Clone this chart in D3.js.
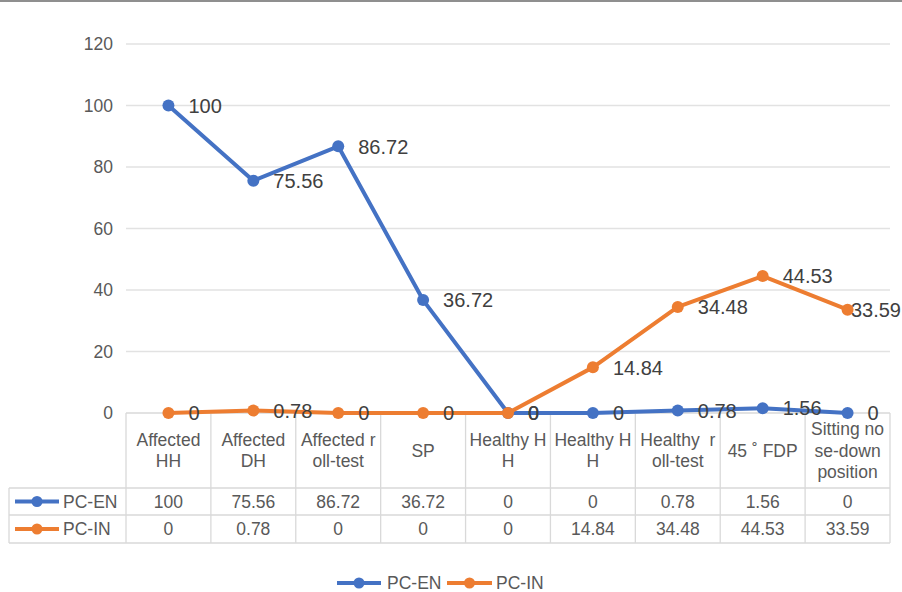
<!DOCTYPE html>
<html>
<head>
<meta charset="utf-8">
<script src="https://cdn.jsdelivr.net/npm/d3@7/dist/d3.min.js"></script>
<style>
  html, body { margin: 0; padding: 0; background: #fff; }
  svg { display: block; font-family: "Liberation Sans", Arial, Helvetica, sans-serif; }
</style>
</head>
<body>
<svg id="chart" width="902" height="592"></svg>
<script>
const categories = [
  ["Affected", "HH"],
  ["Affected", "DH"],
  ["Affected r", "oll-test"],
  ["SP"],
  ["Healthy H", "H"],
  ["Healthy H", "H"],
  ["Healthy  r", "oll-test"],
  ["45 ˚ FDP"],
  ["Sitting no", "se-down", "position"]
];
const seriesNames = ["PC-EN", "PC-IN"];
const pcEN = [100, 75.56, 86.72, 36.72, 0, 0, 0.78, 1.56, 0];
const pcIN = [0, 0.78, 0, 0, 0, 14.84, 34.48, 44.53, 33.59];
const tableEN = ["100", "75.56", "86.72", "36.72", "0", "0", "0.78", "1.56", "0"];
const tableIN = ["0", "0.78", "0", "0", "0", "14.84", "34.48", "44.53", "33.59"];
const yTicks = [0, 20, 40, 60, 80, 100, 120];
const colors = ["#4472C4", "#ED7D31"];

const W = 902;
const svg = d3.select("#chart");
const plotLeft = 126, plotRight = 890, plotTop = 44, zeroY = 413;
const fs = 17.5;

// top border
svg.append("rect").attr("x", 0).attr("y", 0).attr("width", W).attr("height", 2).attr("fill", "#8f8f8f");

const x = d3.scaleBand().domain(d3.range(categories.length)).range([plotLeft, plotRight]);
const y = d3.scaleLinear().domain([0, 120]).range([zeroY, plotTop]);

// gridlines
svg.append("g").selectAll("line").data(yTicks.filter(t => t > 0)).join("line")
  .attr("x1", plotLeft).attr("x2", plotRight)
  .attr("y1", d => y(d)).attr("y2", d => y(d))
  .attr("stroke", "#e2e2e2").attr("stroke-width", 1.5);

// y axis labels
const yAxis = d3.axisLeft(y).tickValues(yTicks).tickSize(0).tickPadding(13);
const ya = svg.append("g").attr("transform", `translate(${plotLeft},0)`).call(yAxis);
ya.select(".domain").remove();
ya.selectAll("text").attr("font-size", fs).attr("fill", "#595959")
  .attr("font-family", "Liberation Sans, Arial, sans-serif");

// table
const rowTop = 488, row1 = 515, rowBot = 543, tableLeft = 9;
const tg = svg.append("g").attr("stroke", "#d9d9d9").attr("stroke-width", 1.3);
x.domain().forEach(i => {
  tg.append("line").attr("x1", x(i)).attr("x2", x(i)).attr("y1", zeroY).attr("y2", rowBot);
});
tg.append("line").attr("x1", plotRight).attr("x2", plotRight).attr("y1", zeroY).attr("y2", rowBot);
tg.append("line").attr("x1", tableLeft).attr("x2", tableLeft).attr("y1", rowTop).attr("y2", rowBot);
[rowTop, row1, rowBot].forEach(yy => {
  tg.append("line").attr("x1", tableLeft).attr("x2", plotRight).attr("y1", yy).attr("y2", yy);
});
tg.append("line").attr("x1", plotLeft).attr("x2", plotRight).attr("y1", zeroY).attr("y2", zeroY);

// category labels
const cg = svg.append("g").attr("font-size", fs).attr("fill", "#595959").attr("text-anchor", "middle");
categories.forEach((lines, i) => {
  const cx = x(i) + x.bandwidth() / 2;
  const midY = (zeroY + rowTop) / 2;
  const lh = 21.5;
  const startY = midY - (lines.length - 1) * lh / 2;
  lines.forEach((ln, j) => {
    cg.append("text").attr("x", cx).attr("y", startY + j * lh).attr("dy", "0.35em")
      .style("white-space", "pre").text(ln);
  });
});

// table values + table legend keys
[tableEN, tableIN].forEach((vals, r) => {
  const cy = r === 0 ? (rowTop + row1) / 2 : (row1 + rowBot) / 2;
  vals.forEach((v, i) => {
    cg.append("text").attr("x", x(i) + x.bandwidth() / 2).attr("y", cy).attr("dy", "0.35em").text(v);
  });
  const lg = svg.append("g");
  lg.append("line").attr("x1", 15).attr("x2", 59).attr("y1", cy).attr("y2", cy)
    .attr("stroke", colors[r]).attr("stroke-width", 4);
  lg.append("circle").attr("cx", 37).attr("cy", cy).attr("r", 5.5).attr("fill", colors[r]);
  lg.append("text").attr("x", 63).attr("y", cy).attr("dy", "0.35em").attr("font-size", fs)
    .attr("fill", "#595959").text(seriesNames[r]);
});

// series lines
const line = d3.line().x((d, i) => x(i) + x.bandwidth() / 2).y(d => y(d));
const allSeries = [pcEN, pcIN];
allSeries.forEach((s, k) => {
  const g = svg.append("g");
  g.append("path").datum(s).attr("d", line).attr("fill", "none")
    .attr("stroke", colors[k]).attr("stroke-width", 4).attr("stroke-linejoin", "round");
  g.selectAll("circle").data(s).join("circle")
    .attr("cx", (d, i) => x(i) + x.bandwidth() / 2).attr("cy", d => y(d)).attr("r", 6)
    .attr("fill", colors[k]);
});

// data labels (right of point, pulled in if they would overflow the picture)
allSeries.forEach((s, k) => {
  svg.append("g").selectAll("text").data(s).join("text")
    .attr("x", (d, i) => x(i) + x.bandwidth() / 2 + 20)
    .attr("y", d => y(d))
    .attr("dy", "0.36em")
    .attr("font-size", 20).attr("fill", "#404040")
    .text(d => String(d))
    .each(function() {
      const w = this.getComputedTextLength();
      const x0 = +this.getAttribute("x");
      if (x0 + w > W - 1) this.setAttribute("x", W - 1 - w);
    });
});

// bottom legend
const lgd = svg.append("g");
const ly = 583;
[[337, 381, 387], [447, 492, 496]].forEach((p, k) => {
  lgd.append("line").attr("x1", p[0]).attr("x2", p[1]).attr("y1", ly).attr("y2", ly)
    .attr("stroke", colors[k]).attr("stroke-width", 4);
  lgd.append("circle").attr("cx", (p[0] + p[1]) / 2).attr("cy", ly).attr("r", 5.5).attr("fill", colors[k]);
  lgd.append("text").attr("x", p[2]).attr("y", ly).attr("dy", "0.35em").attr("font-size", fs)
    .attr("fill", "#595959").text(seriesNames[k]);
});
</script>
</body>
</html>
